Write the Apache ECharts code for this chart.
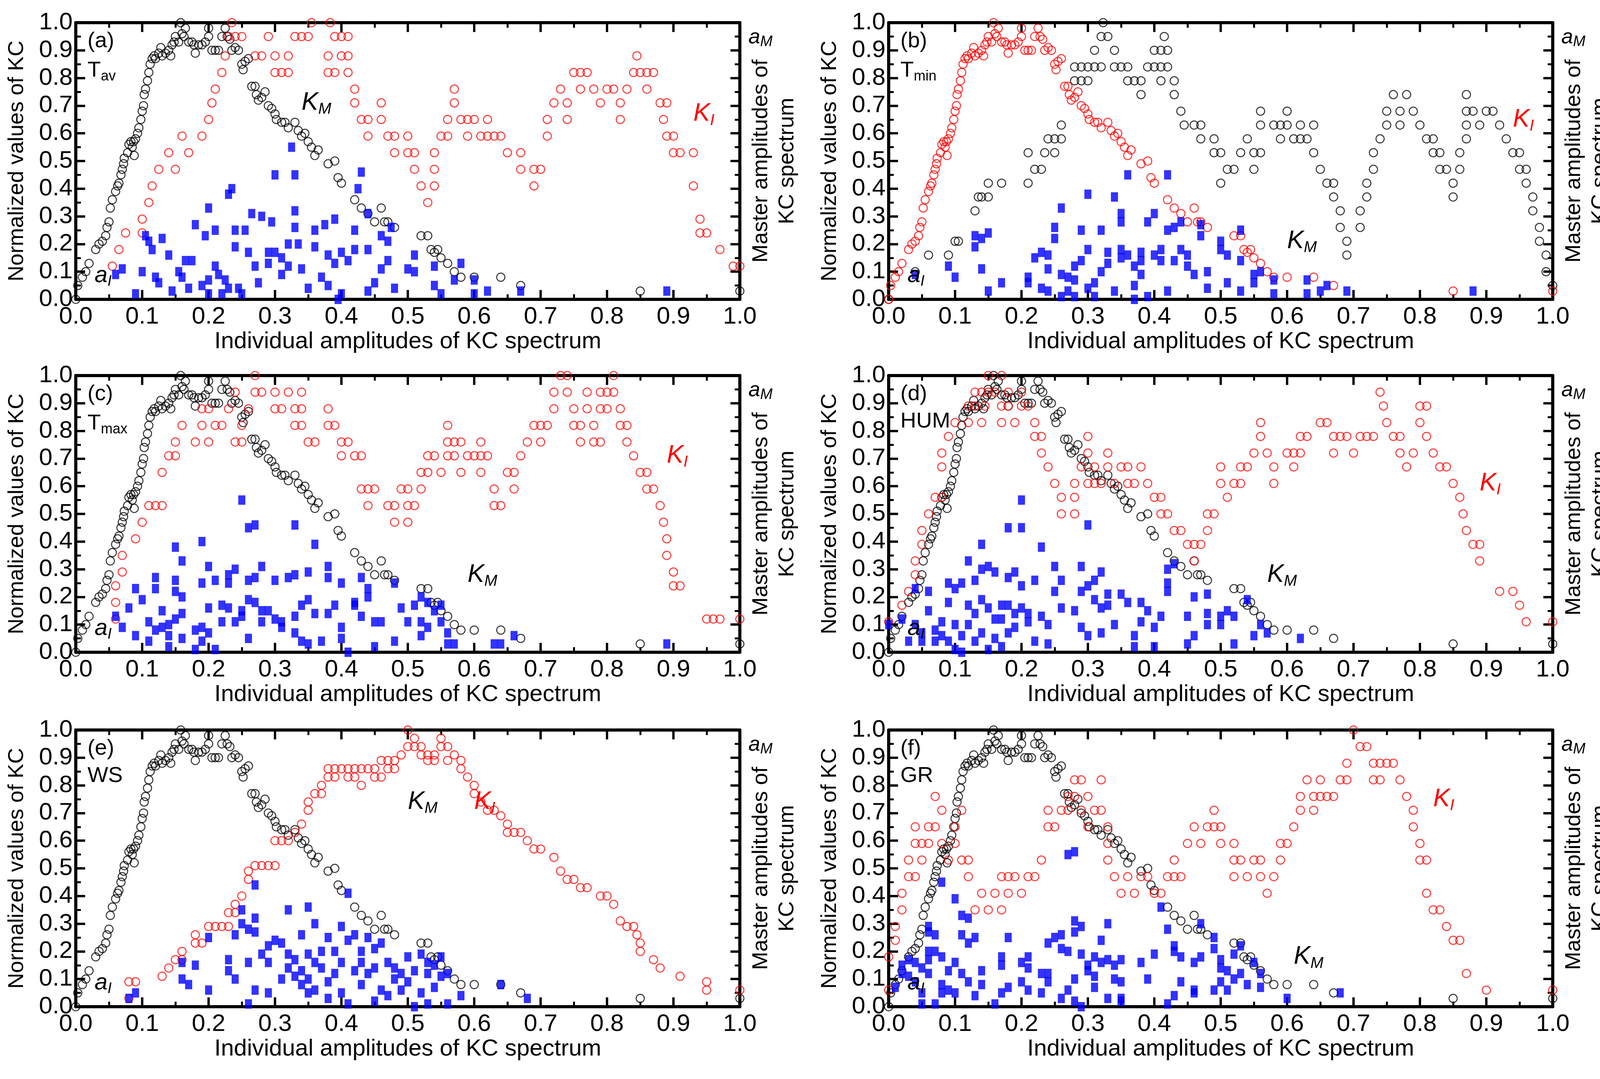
<!DOCTYPE html>
<html>
<head>
<meta charset="utf-8">
<script src="https://cdn.jsdelivr.net/npm/echarts@6/dist/echarts.min.js"></script>
<style>
  html, body { margin: 0; padding: 0; background: #fff; }
  #chart { width: 4162px; height: 2761px; }
</style>
</head>
<body>
<div id="chart"></div>
<script>
// master KC curve (same in every panel)
const kmMaster = [[0,0],[0.003,0.05],[0.01,0.08],[0.015,0.1],[0.02,0.13],[0.03,0.18],[0.035,0.2],[0.04,0.21],[0.045,0.23],[0.047,0.26],[0.05,0.28],[0.052,0.33],[0.055,0.36],[0.06,0.39],[0.063,0.41],[0.065,0.42],[0.068,0.45],[0.07,0.47],[0.072,0.49],[0.073,0.51],[0.078,0.53],[0.08,0.56],[0.083,0.57],[0.085,0.55],[0.087,0.57],[0.088,0.52],[0.09,0.58],[0.093,0.6],[0.095,0.62],[0.098,0.65],[0.1,0.68],[0.102,0.7],[0.103,0.74],[0.105,0.76],[0.108,0.79],[0.11,0.82],[0.112,0.85],[0.115,0.87],[0.118,0.88],[0.12,0.87],[0.125,0.89],[0.128,0.91],[0.13,0.88],[0.135,0.89],[0.14,0.9],[0.143,0.88],[0.145,0.92],[0.148,0.93],[0.15,0.95],[0.155,0.93],[0.158,1.0],[0.16,0.96],[0.163,0.95],[0.165,0.98],[0.17,0.93],[0.175,0.93],[0.178,0.92],[0.18,0.89],[0.185,0.92],[0.19,0.92],[0.195,0.93],[0.2,0.95],[0.2,0.98],[0.205,0.9],[0.21,0.9],[0.215,0.9],[0.22,0.95],[0.225,0.98],[0.228,0.95],[0.232,0.94],[0.235,0.9],[0.24,0.91],[0.245,0.9],[0.25,0.85],[0.252,0.83],[0.255,0.86],[0.26,0.87],[0.265,0.77],[0.27,0.77],[0.272,0.74],[0.275,0.72],[0.28,0.73],[0.285,0.75],[0.29,0.7],[0.295,0.69],[0.3,0.67],[0.302,0.65],[0.31,0.64],[0.315,0.64],[0.32,0.62],[0.33,0.64],[0.335,0.61],[0.34,0.59],[0.345,0.6],[0.35,0.57],[0.355,0.55],[0.36,0.52],[0.365,0.54],[0.38,0.49],[0.39,0.5],[0.395,0.44],[0.4,0.42],[0.42,0.36],[0.43,0.33],[0.44,0.31],[0.45,0.28],[0.46,0.33],[0.465,0.28],[0.47,0.28],[0.48,0.26],[0.52,0.23],[0.53,0.23],[0.535,0.18],[0.54,0.17],[0.545,0.18],[0.55,0.15],[0.56,0.13],[0.57,0.1],[0.58,0.08],[0.6,0.08],[0.64,0.08],[0.67,0.05],[0.85,0.03],[1.0,0.03]];

const kiA = [[0.055,0.12],[0.065,0.18],[0.075,0.24],[0.1,0.29],[0.1,0.24],[0.11,0.35],[0.115,0.41],[0.125,0.47],[0.14,0.53],[0.15,0.47],[0.16,0.59],[0.17,0.53],[0.19,0.59],[0.2,0.65],[0.205,0.71],[0.21,0.76],[0.22,0.82],[0.225,0.88],[0.23,0.95],[0.235,1.0],[0.24,0.95],[0.25,0.95],[0.27,0.88],[0.28,0.88],[0.29,0.95],[0.3,0.88],[0.3,0.82],[0.31,0.82],[0.32,0.82],[0.32,0.88],[0.33,0.95],[0.34,0.95],[0.35,0.95],[0.355,1.0],[0.38,0.88],[0.38,0.82],[0.39,0.95],[0.4,0.88],[0.39,0.82],[0.383,1.0],[0.4,0.95],[0.41,0.88],[0.41,0.82],[0.41,0.95],[0.42,0.76],[0.42,0.71],[0.43,0.65],[0.44,0.59],[0.44,0.65],[0.46,0.65],[0.46,0.71],[0.47,0.59],[0.48,0.59],[0.48,0.53],[0.5,0.53],[0.5,0.59],[0.51,0.53],[0.51,0.47],[0.52,0.41],[0.53,0.35],[0.54,0.41],[0.54,0.47],[0.54,0.53],[0.55,0.59],[0.56,0.59],[0.56,0.65],[0.57,0.71],[0.57,0.76],[0.58,0.65],[0.59,0.65],[0.59,0.59],[0.6,0.65],[0.61,0.59],[0.62,0.59],[0.62,0.65],[0.63,0.59],[0.64,0.59],[0.65,0.53],[0.67,0.53],[0.67,0.47],[0.69,0.41],[0.69,0.47],[0.7,0.47],[0.71,0.59],[0.71,0.65],[0.72,0.71],[0.73,0.76],[0.74,0.65],[0.74,0.71],[0.75,0.82],[0.76,0.76],[0.76,0.82],[0.77,0.82],[0.78,0.76],[0.79,0.71],[0.8,0.76],[0.81,0.76],[0.82,0.65],[0.82,0.71],[0.83,0.76],[0.84,0.82],[0.845,0.88],[0.85,0.82],[0.86,0.76],[0.86,0.82],[0.87,0.82],[0.88,0.71],[0.885,0.65],[0.89,0.71],[0.89,0.59],[0.9,0.59],[0.9,0.53],[0.91,0.53],[0.93,0.53],[0.93,0.41],[0.94,0.29],[0.94,0.24],[0.95,0.24],[0.97,0.18],[0.99,0.12],[1.0,0.12]];
const blueA = [[0.06,0.09],[0.07,0.11],[0.09,0.02],[0.1,0.1],[0.105,0.23],[0.11,0.21],[0.115,0.18],[0.12,0.08],[0.125,0.06],[0.13,0.22],[0.14,0.16],[0.145,0.03],[0.155,0.1],[0.16,0.08],[0.165,0.14],[0.17,0.04],[0.175,0.14],[0.18,0.27],[0.19,0.05],[0.195,0.23],[0.2,0.33],[0.2,0.02],[0.2,0.07],[0.21,0.25],[0.21,0.12],[0.215,0.09],[0.22,0.02],[0.225,0.07],[0.23,0.04],[0.23,0.38],[0.235,0.4],[0.24,0.19],[0.24,0.25],[0.245,0.04],[0.25,0.02],[0.255,0.25],[0.26,0.17],[0.265,0.31],[0.27,0.12],[0.275,0.06],[0.28,0.3],[0.29,0.13],[0.29,0.17],[0.295,0.28],[0.3,0.45],[0.3,0.17],[0.31,0.15],[0.31,0.09],[0.32,0.2],[0.32,0.12],[0.325,0.55],[0.33,0.26],[0.33,0.32],[0.33,0.45],[0.335,0.2],[0.34,0.11],[0.35,0.04],[0.36,0.25],[0.36,0.19],[0.37,0.08],[0.375,0.27],[0.38,0.05],[0.38,0.16],[0.39,0.29],[0.39,0.13],[0.395,0.0],[0.4,0.17],[0.4,0.02],[0.41,0.14],[0.42,0.25],[0.42,0.18],[0.425,0.4],[0.43,0.46],[0.44,0.31],[0.44,0.18],[0.45,0.06],[0.44,0.03],[0.46,0.23],[0.46,0.11],[0.47,0.14],[0.47,0.21],[0.475,0.26],[0.48,0.04],[0.5,0.11],[0.51,0.1],[0.51,0.16],[0.54,0.12],[0.54,0.05],[0.55,0.02],[0.57,0.07],[0.58,0.13],[0.6,0.02],[0.6,0.07],[0.62,0.03],[0.67,0.03],[0.89,0.03]];

const kiB = [[0.0,0.0],[0.04,0.1],[0.06,0.16],[0.09,0.16],[0.1,0.21],[0.105,0.21],[0.13,0.32],[0.135,0.37],[0.14,0.37],[0.15,0.37],[0.15,0.42],[0.17,0.42],[0.21,0.42],[0.21,0.53],[0.22,0.47],[0.23,0.47],[0.235,0.53],[0.24,0.58],[0.25,0.53],[0.25,0.58],[0.26,0.58],[0.26,0.63],[0.28,0.79],[0.28,0.84],[0.29,0.79],[0.29,0.84],[0.3,0.84],[0.3,0.79],[0.31,0.84],[0.31,0.9],[0.32,0.84],[0.32,0.95],[0.323,1.0],[0.33,0.95],[0.34,0.9],[0.34,0.84],[0.35,0.84],[0.36,0.84],[0.36,0.79],[0.37,0.79],[0.38,0.74],[0.38,0.79],[0.39,0.84],[0.4,0.9],[0.4,0.84],[0.41,0.79],[0.41,0.84],[0.41,0.9],[0.415,0.95],[0.42,0.9],[0.42,0.84],[0.43,0.79],[0.43,0.74],[0.44,0.68],[0.445,0.63],[0.46,0.63],[0.47,0.63],[0.47,0.58],[0.49,0.58],[0.49,0.53],[0.5,0.53],[0.5,0.42],[0.51,0.47],[0.52,0.47],[0.53,0.53],[0.54,0.58],[0.55,0.53],[0.55,0.47],[0.56,0.53],[0.56,0.63],[0.56,0.68],[0.58,0.63],[0.59,0.63],[0.59,0.58],[0.6,0.68],[0.6,0.63],[0.61,0.58],[0.62,0.63],[0.62,0.58],[0.63,0.58],[0.64,0.63],[0.64,0.53],[0.65,0.47],[0.66,0.42],[0.67,0.42],[0.67,0.37],[0.68,0.32],[0.68,0.26],[0.69,0.21],[0.69,0.16],[0.71,0.26],[0.71,0.32],[0.72,0.37],[0.72,0.42],[0.73,0.47],[0.73,0.53],[0.74,0.58],[0.75,0.63],[0.75,0.68],[0.76,0.74],[0.77,0.68],[0.77,0.63],[0.78,0.74],[0.79,0.68],[0.8,0.63],[0.81,0.58],[0.82,0.58],[0.82,0.53],[0.83,0.47],[0.83,0.53],[0.84,0.47],[0.85,0.42],[0.85,0.37],[0.86,0.47],[0.86,0.53],[0.87,0.58],[0.87,0.63],[0.87,0.68],[0.87,0.74],[0.88,0.68],[0.89,0.63],[0.9,0.68],[0.91,0.68],[0.92,0.63],[0.93,0.58],[0.94,0.53],[0.95,0.53],[0.95,0.47],[0.96,0.42],[0.97,0.37],[0.96,0.47],[0.97,0.32],[0.98,0.26],[0.98,0.21],[0.99,0.16],[0.99,0.1],[1.0,0.05]];
const blueB = [[0.04,0.09],[0.09,0.12],[0.1,0.08],[0.13,0.19],[0.13,0.23],[0.14,0.22],[0.15,0.24],[0.14,0.11],[0.15,0.03],[0.17,0.06],[0.21,0.08],[0.21,0.06],[0.22,0.15],[0.23,0.17],[0.23,0.04],[0.24,0.16],[0.24,0.11],[0.24,0.03],[0.25,0.26],[0.25,0.22],[0.26,0.33],[0.26,0.09],[0.26,0.01],[0.27,0.08],[0.27,0.03],[0.28,0.12],[0.28,0.07],[0.28,0.01],[0.29,0.25],[0.29,0.14],[0.3,0.18],[0.3,0.38],[0.3,0.04],[0.31,0.06],[0.31,0.01],[0.32,0.25],[0.32,0.1],[0.33,0.13],[0.33,0.17],[0.34,0.37],[0.34,0.03],[0.35,0.28],[0.35,0.31],[0.35,0.18],[0.35,0.15],[0.36,0.45],[0.36,0.16],[0.37,0.12],[0.37,0.05],[0.37,0.0],[0.38,0.09],[0.38,0.14],[0.38,0.17],[0.39,0.28],[0.39,0.01],[0.4,0.16],[0.4,0.31],[0.41,0.18],[0.41,0.14],[0.42,0.45],[0.42,0.25],[0.42,0.03],[0.43,0.26],[0.43,0.14],[0.44,0.18],[0.44,0.28],[0.45,0.12],[0.45,0.16],[0.46,0.09],[0.47,0.27],[0.47,0.23],[0.48,0.04],[0.48,0.1],[0.5,0.18],[0.5,0.21],[0.51,0.06],[0.51,0.16],[0.53,0.03],[0.53,0.25],[0.53,0.14],[0.55,0.06],[0.55,0.09],[0.56,0.1],[0.58,0.02],[0.58,0.07],[0.63,0.07],[0.63,0.02],[0.65,0.03],[0.66,0.05],[0.69,0.03],[0.88,0.03]];

const kiC = [[0.06,0.12],[0.06,0.18],[0.06,0.24],[0.07,0.29],[0.07,0.35],[0.09,0.41],[0.1,0.47],[0.11,0.53],[0.12,0.53],[0.13,0.53],[0.13,0.65],[0.14,0.71],[0.15,0.71],[0.15,0.76],[0.16,0.82],[0.18,0.76],[0.19,0.82],[0.19,0.88],[0.2,0.88],[0.2,0.76],[0.21,0.82],[0.22,0.82],[0.23,0.88],[0.24,0.94],[0.24,0.76],[0.25,0.82],[0.25,0.76],[0.26,0.88],[0.27,0.94],[0.27,1.0],[0.28,0.94],[0.3,0.94],[0.3,0.88],[0.31,0.88],[0.32,0.94],[0.33,0.88],[0.34,0.94],[0.34,0.88],[0.33,0.82],[0.34,0.82],[0.35,0.76],[0.36,0.76],[0.38,0.82],[0.38,0.88],[0.39,0.82],[0.4,0.76],[0.4,0.71],[0.41,0.76],[0.42,0.71],[0.43,0.71],[0.43,0.59],[0.44,0.53],[0.44,0.59],[0.45,0.59],[0.47,0.53],[0.48,0.47],[0.48,0.53],[0.49,0.59],[0.5,0.59],[0.5,0.47],[0.5,0.53],[0.51,0.53],[0.52,0.59],[0.52,0.65],[0.53,0.71],[0.53,0.65],[0.54,0.71],[0.55,0.65],[0.56,0.71],[0.56,0.76],[0.56,0.82],[0.57,0.76],[0.57,0.71],[0.58,0.76],[0.58,0.65],[0.59,0.71],[0.6,0.71],[0.61,0.76],[0.61,0.71],[0.61,0.65],[0.62,0.71],[0.63,0.59],[0.63,0.53],[0.64,0.53],[0.65,0.65],[0.66,0.65],[0.66,0.59],[0.67,0.71],[0.68,0.76],[0.69,0.82],[0.7,0.82],[0.7,0.76],[0.71,0.82],[0.72,0.88],[0.72,0.94],[0.73,1.0],[0.74,1.0],[0.74,0.94],[0.75,0.88],[0.75,0.82],[0.76,0.76],[0.76,0.82],[0.77,0.88],[0.77,0.94],[0.78,0.82],[0.78,0.76],[0.79,0.88],[0.79,0.94],[0.79,0.76],[0.8,0.88],[0.8,0.94],[0.81,1.0],[0.81,0.94],[0.82,0.88],[0.82,0.82],[0.83,0.82],[0.83,0.76],[0.84,0.71],[0.85,0.65],[0.86,0.59],[0.86,0.65],[0.87,0.59],[0.88,0.53],[0.885,0.47],[0.89,0.41],[0.89,0.35],[0.9,0.29],[0.9,0.24],[0.91,0.24],[0.95,0.12],[0.96,0.12],[0.97,0.12],[1.0,0.12]];
const blueC = [[0.06,0.13],[0.07,0.09],[0.08,0.16],[0.09,0.06],[0.09,0.23],[0.1,0.19],[0.11,0.11],[0.11,0.04],[0.12,0.08],[0.12,0.23],[0.12,0.27],[0.13,0.15],[0.13,0.09],[0.14,0.06],[0.14,0.1],[0.14,0.02],[0.15,0.26],[0.15,0.22],[0.15,0.12],[0.15,0.38],[0.16,0.33],[0.16,0.2],[0.16,0.14],[0.16,0.05],[0.18,0.08],[0.18,0.01],[0.19,0.09],[0.19,0.4],[0.19,0.25],[0.19,0.04],[0.2,0.31],[0.2,0.16],[0.2,0.07],[0.21,0.26],[0.21,0.01],[0.22,0.17],[0.22,0.11],[0.23,0.28],[0.23,0.25],[0.23,0.16],[0.24,0.11],[0.24,0.3],[0.25,0.55],[0.25,0.15],[0.25,0.13],[0.26,0.26],[0.26,0.45],[0.26,0.05],[0.26,0.19],[0.27,0.46],[0.27,0.27],[0.27,0.18],[0.28,0.31],[0.28,0.15],[0.28,0.11],[0.29,0.15],[0.3,0.26],[0.3,0.12],[0.31,0.09],[0.31,0.11],[0.32,0.27],[0.33,0.28],[0.33,0.46],[0.33,0.07],[0.33,0.13],[0.34,0.04],[0.34,0.17],[0.35,0.03],[0.35,0.29],[0.35,0.19],[0.36,0.14],[0.36,0.39],[0.37,0.04],[0.38,0.27],[0.38,0.31],[0.38,0.14],[0.39,0.17],[0.4,0.05],[0.4,0.09],[0.4,0.25],[0.41,0.0],[0.42,0.17],[0.42,0.18],[0.43,0.13],[0.43,0.27],[0.44,0.2],[0.44,0.23],[0.45,0.11],[0.45,0.02],[0.46,0.11],[0.48,0.04],[0.48,0.25],[0.49,0.16],[0.5,0.11],[0.51,0.17],[0.52,0.11],[0.52,0.2],[0.52,0.06],[0.53,0.18],[0.53,0.09],[0.54,0.15],[0.55,0.17],[0.55,0.11],[0.56,0.07],[0.56,0.03],[0.57,0.03],[0.63,0.03],[0.64,0.03],[0.66,0.06],[0.89,0.03]];

const kiD = [[0.0,0.11],[0.02,0.17],[0.03,0.22],[0.04,0.28],[0.04,0.33],[0.05,0.39],[0.05,0.44],[0.06,0.5],[0.07,0.56],[0.08,0.56],[0.08,0.67],[0.08,0.72],[0.09,0.78],[0.1,0.83],[0.12,0.83],[0.12,0.89],[0.13,0.94],[0.13,0.89],[0.14,0.83],[0.14,0.94],[0.145,0.89],[0.15,0.94],[0.15,1.0],[0.16,0.94],[0.17,0.89],[0.17,1.0],[0.17,0.83],[0.18,0.89],[0.18,0.94],[0.19,0.83],[0.2,0.89],[0.2,0.94],[0.21,0.89],[0.22,0.83],[0.22,0.78],[0.23,0.72],[0.23,0.78],[0.24,0.67],[0.25,0.61],[0.26,0.56],[0.26,0.5],[0.28,0.56],[0.28,0.5],[0.28,0.61],[0.29,0.67],[0.3,0.72],[0.3,0.78],[0.3,0.61],[0.31,0.61],[0.31,0.67],[0.32,0.61],[0.33,0.67],[0.33,0.72],[0.34,0.61],[0.35,0.67],[0.36,0.61],[0.36,0.67],[0.37,0.61],[0.38,0.67],[0.39,0.61],[0.4,0.56],[0.41,0.5],[0.41,0.56],[0.42,0.5],[0.43,0.44],[0.44,0.44],[0.45,0.39],[0.46,0.39],[0.46,0.33],[0.47,0.39],[0.48,0.44],[0.48,0.5],[0.49,0.5],[0.5,0.67],[0.5,0.61],[0.51,0.56],[0.52,0.61],[0.53,0.61],[0.53,0.67],[0.54,0.67],[0.55,0.72],[0.56,0.78],[0.56,0.83],[0.57,0.72],[0.58,0.67],[0.58,0.61],[0.6,0.72],[0.61,0.72],[0.61,0.67],[0.62,0.72],[0.62,0.78],[0.63,0.78],[0.65,0.83],[0.66,0.83],[0.67,0.78],[0.67,0.72],[0.68,0.78],[0.69,0.78],[0.7,0.72],[0.71,0.78],[0.72,0.78],[0.73,0.78],[0.74,0.94],[0.745,0.89],[0.75,0.83],[0.76,0.78],[0.77,0.78],[0.77,0.72],[0.78,0.67],[0.79,0.72],[0.8,0.83],[0.8,0.89],[0.81,0.89],[0.81,0.78],[0.82,0.72],[0.83,0.67],[0.84,0.67],[0.85,0.61],[0.86,0.56],[0.865,0.5],[0.87,0.44],[0.88,0.39],[0.89,0.39],[0.89,0.33],[0.92,0.22],[0.94,0.22],[0.95,0.17],[0.96,0.11],[1.0,0.11]];
const blueD = [[0.0,0.1],[0.02,0.12],[0.03,0.04],[0.04,0.23],[0.04,0.1],[0.05,0.07],[0.05,0.04],[0.06,0.15],[0.06,0.22],[0.07,0.08],[0.07,0.04],[0.08,0.11],[0.08,0.06],[0.09,0.25],[0.09,0.18],[0.09,0.04],[0.1,0.01],[0.1,0.1],[0.1,0.23],[0.11,0.25],[0.11,0.06],[0.11,0.0],[0.12,0.33],[0.12,0.17],[0.12,0.1],[0.13,0.04],[0.13,0.14],[0.13,0.26],[0.14,0.3],[0.14,0.19],[0.14,0.39],[0.14,0.07],[0.15,0.31],[0.15,0.16],[0.15,0.01],[0.16,0.12],[0.16,0.29],[0.16,0.05],[0.17,0.17],[0.17,0.12],[0.17,0.02],[0.18,0.27],[0.18,0.17],[0.18,0.45],[0.18,0.07],[0.19,0.14],[0.19,0.29],[0.19,0.09],[0.2,0.24],[0.2,0.16],[0.2,0.45],[0.2,0.55],[0.21,0.11],[0.21,0.14],[0.22,0.26],[0.22,0.04],[0.23,0.38],[0.23,0.13],[0.24,0.1],[0.24,0.03],[0.25,0.31],[0.25,0.22],[0.26,0.26],[0.26,0.16],[0.28,0.15],[0.29,0.31],[0.29,0.22],[0.29,0.09],[0.3,0.24],[0.3,0.46],[0.3,0.06],[0.31,0.26],[0.31,0.19],[0.32,0.16],[0.32,0.29],[0.32,0.07],[0.33,0.21],[0.33,0.17],[0.34,0.1],[0.35,0.21],[0.36,0.18],[0.37,0.06],[0.37,0.02],[0.38,0.18],[0.38,0.11],[0.39,0.15],[0.4,0.09],[0.4,0.02],[0.41,0.13],[0.42,0.3],[0.42,0.25],[0.42,0.22],[0.43,0.32],[0.45,0.13],[0.45,0.03],[0.46,0.2],[0.46,0.06],[0.48,0.1],[0.48,0.14],[0.48,0.21],[0.5,0.13],[0.5,0.1],[0.51,0.15],[0.52,0.03],[0.52,0.13],[0.54,0.19],[0.55,0.06],[0.56,0.1],[0.57,0.07],[0.62,0.05]];

const kiE = [[0.08,0.03],[0.08,0.09],[0.09,0.09],[0.13,0.11],[0.14,0.14],[0.15,0.17],[0.16,0.17],[0.16,0.2],[0.18,0.23],[0.18,0.26],[0.19,0.23],[0.2,0.29],[0.21,0.29],[0.22,0.29],[0.23,0.29],[0.23,0.34],[0.24,0.34],[0.24,0.37],[0.25,0.4],[0.26,0.46],[0.26,0.49],[0.27,0.51],[0.28,0.51],[0.29,0.51],[0.3,0.51],[0.3,0.6],[0.31,0.6],[0.32,0.6],[0.33,0.63],[0.34,0.66],[0.35,0.71],[0.35,0.74],[0.36,0.77],[0.37,0.77],[0.37,0.8],[0.38,0.83],[0.38,0.86],[0.39,0.86],[0.39,0.83],[0.4,0.86],[0.41,0.86],[0.41,0.83],[0.42,0.86],[0.42,0.83],[0.43,0.86],[0.43,0.8],[0.44,0.86],[0.45,0.86],[0.45,0.83],[0.46,0.83],[0.46,0.89],[0.47,0.86],[0.47,0.89],[0.48,0.86],[0.48,0.89],[0.49,0.91],[0.5,0.94],[0.5,1.0],[0.51,0.97],[0.51,0.94],[0.52,0.94],[0.52,0.91],[0.53,0.89],[0.53,0.91],[0.54,0.91],[0.54,0.89],[0.55,0.94],[0.55,0.97],[0.56,0.94],[0.56,0.89],[0.57,0.91],[0.58,0.89],[0.58,0.86],[0.59,0.83],[0.6,0.8],[0.6,0.77],[0.61,0.74],[0.62,0.71],[0.63,0.71],[0.64,0.69],[0.65,0.66],[0.65,0.63],[0.66,0.63],[0.67,0.63],[0.68,0.6],[0.69,0.57],[0.7,0.57],[0.72,0.54],[0.73,0.49],[0.74,0.46],[0.75,0.46],[0.76,0.43],[0.77,0.43],[0.79,0.4],[0.8,0.4],[0.81,0.37],[0.82,0.31],[0.83,0.29],[0.84,0.29],[0.845,0.26],[0.85,0.23],[0.85,0.2],[0.87,0.17],[0.88,0.14],[0.91,0.11],[0.95,0.09],[0.95,0.06],[1.0,0.06]];
const blueE = [[0.08,0.03],[0.09,0.05],[0.16,0.1],[0.16,0.16],[0.17,0.08],[0.18,0.15],[0.2,0.06],[0.2,0.25],[0.23,0.17],[0.23,0.13],[0.24,0.26],[0.24,0.1],[0.25,0.35],[0.25,0.3],[0.26,0.28],[0.26,0.16],[0.26,0.01],[0.27,0.32],[0.27,0.27],[0.27,0.44],[0.27,0.06],[0.28,0.19],[0.29,0.22],[0.29,0.16],[0.29,0.05],[0.3,0.24],[0.31,0.1],[0.31,0.23],[0.32,0.19],[0.32,0.35],[0.32,0.14],[0.33,0.17],[0.33,0.11],[0.34,0.13],[0.34,0.26],[0.34,0.08],[0.35,0.36],[0.35,0.19],[0.35,0.1],[0.35,0.05],[0.36,0.3],[0.36,0.16],[0.36,0.06],[0.37,0.14],[0.37,0.2],[0.38,0.25],[0.38,0.09],[0.38,0.03],[0.39,0.2],[0.39,0.12],[0.4,0.29],[0.4,0.16],[0.4,0.05],[0.41,0.01],[0.41,0.41],[0.41,0.24],[0.42,0.13],[0.42,0.26],[0.43,0.2],[0.43,0.16],[0.43,0.08],[0.44,0.12],[0.44,0.25],[0.45,0.21],[0.45,0.02],[0.45,0.14],[0.46,0.06],[0.46,0.23],[0.47,0.16],[0.47,0.04],[0.48,0.1],[0.48,0.14],[0.49,0.06],[0.49,0.12],[0.5,0.09],[0.5,0.18],[0.51,0.0],[0.51,0.13],[0.52,0.05],[0.52,0.19],[0.53,0.16],[0.53,0.12],[0.53,0.01],[0.54,0.07],[0.54,0.15],[0.55,0.11],[0.55,0.18],[0.56,0.12],[0.56,0.01],[0.58,0.04],[0.64,0.08],[0.68,0.03]];

const kiF = [[0.0,0.06],[0.0,0.18],[0.01,0.24],[0.01,0.29],[0.02,0.35],[0.02,0.41],[0.03,0.47],[0.03,0.53],[0.04,0.47],[0.04,0.59],[0.04,0.65],[0.05,0.59],[0.05,0.53],[0.06,0.59],[0.06,0.65],[0.07,0.65],[0.07,0.76],[0.08,0.71],[0.08,0.59],[0.09,0.53],[0.1,0.59],[0.1,0.65],[0.11,0.71],[0.11,0.53],[0.12,0.53],[0.12,0.47],[0.13,0.35],[0.14,0.41],[0.15,0.35],[0.16,0.41],[0.17,0.47],[0.17,0.35],[0.18,0.41],[0.18,0.47],[0.19,0.47],[0.2,0.41],[0.21,0.47],[0.22,0.47],[0.23,0.53],[0.24,0.71],[0.24,0.65],[0.25,0.65],[0.26,0.71],[0.27,0.71],[0.27,0.76],[0.28,0.82],[0.28,0.76],[0.29,0.82],[0.29,0.71],[0.3,0.76],[0.3,0.65],[0.31,0.71],[0.32,0.71],[0.32,0.82],[0.33,0.65],[0.33,0.59],[0.33,0.53],[0.34,0.47],[0.35,0.41],[0.36,0.47],[0.37,0.41],[0.38,0.47],[0.39,0.47],[0.4,0.41],[0.41,0.41],[0.42,0.47],[0.43,0.53],[0.43,0.47],[0.44,0.47],[0.45,0.59],[0.46,0.65],[0.47,0.59],[0.48,0.65],[0.49,0.71],[0.49,0.65],[0.5,0.65],[0.5,0.59],[0.52,0.59],[0.52,0.53],[0.52,0.47],[0.53,0.53],[0.54,0.47],[0.55,0.53],[0.56,0.47],[0.56,0.53],[0.57,0.41],[0.58,0.47],[0.59,0.53],[0.59,0.59],[0.6,0.59],[0.61,0.65],[0.62,0.71],[0.62,0.76],[0.63,0.82],[0.64,0.76],[0.64,0.71],[0.65,0.82],[0.65,0.76],[0.66,0.76],[0.67,0.76],[0.68,0.82],[0.69,0.88],[0.69,0.82],[0.7,1.0],[0.71,0.94],[0.72,0.94],[0.73,0.88],[0.73,0.82],[0.74,0.88],[0.74,0.82],[0.75,0.88],[0.76,0.88],[0.77,0.82],[0.78,0.76],[0.79,0.71],[0.79,0.65],[0.8,0.59],[0.8,0.53],[0.81,0.53],[0.81,0.41],[0.82,0.35],[0.83,0.35],[0.84,0.29],[0.85,0.24],[0.86,0.24],[0.87,0.12],[0.9,0.06],[1.0,0.06]];
const blueF = [[0.01,0.07],[0.02,0.12],[0.02,0.15],[0.03,0.17],[0.03,0.11],[0.04,0.16],[0.04,0.09],[0.05,0.14],[0.05,0.05],[0.05,0.01],[0.06,0.17],[0.06,0.2],[0.06,0.27],[0.06,0.29],[0.06,0.12],[0.07,0.01],[0.07,0.2],[0.07,0.26],[0.08,0.45],[0.08,0.18],[0.08,0.05],[0.08,0.08],[0.09,0.13],[0.09,0.06],[0.1,0.39],[0.1,0.16],[0.1,0.05],[0.11,0.33],[0.11,0.12],[0.11,0.26],[0.12,0.32],[0.12,0.23],[0.12,0.09],[0.13,0.25],[0.13,0.04],[0.14,0.13],[0.14,0.08],[0.16,0.01],[0.17,0.18],[0.17,0.15],[0.17,0.05],[0.18,0.25],[0.18,0.07],[0.2,0.16],[0.2,0.09],[0.21,0.18],[0.21,0.14],[0.21,0.06],[0.23,0.12],[0.23,0.05],[0.24,0.12],[0.24,0.23],[0.24,0.09],[0.25,0.25],[0.26,0.26],[0.26,0.21],[0.26,0.03],[0.27,0.55],[0.27,0.2],[0.27,0.06],[0.28,0.56],[0.28,0.27],[0.28,0.31],[0.28,0.1],[0.28,0.02],[0.29,0.19],[0.29,0.29],[0.29,0.0],[0.3,0.15],[0.3,0.13],[0.31,0.18],[0.31,0.11],[0.31,0.07],[0.32,0.24],[0.32,0.16],[0.33,0.03],[0.33,0.17],[0.33,0.3],[0.34,0.15],[0.34,0.1],[0.35,0.09],[0.35,0.17],[0.35,0.03],[0.35,0.02],[0.38,0.16],[0.39,0.1],[0.4,0.19],[0.41,0.36],[0.42,0.01],[0.42,0.28],[0.43,0.22],[0.43,0.04],[0.43,0.2],[0.44,0.18],[0.44,0.09],[0.46,0.16],[0.46,0.06],[0.46,0.05],[0.47,0.18],[0.47,0.3],[0.49,0.25],[0.49,0.21],[0.49,0.06],[0.5,0.17],[0.5,0.09],[0.5,0.14],[0.51,0.13],[0.51,0.06],[0.52,0.19],[0.52,0.1],[0.53,0.22],[0.53,0.12],[0.54,0.08],[0.55,0.16],[0.56,0.12],[0.56,0.07],[0.6,0.03],[0.68,0.05]];

const tickLabels = ['0.0','0.1','0.2','0.3','0.4','0.5','0.6','0.7','0.8','0.9','1.0'];

// panels: in (b) the master curve is the red one
const panels = [
  { tag: '(a)', v: 'T', sub: 'av', black: kmMaster, red: kiA, blue: blueA, km: [0.34, 0.71], ki: [0.93, 0.67] },
  { tag: '(b)', v: 'T', sub: 'min', black: kiB, red: kmMaster, blue: blueB, km: [0.6, 0.21], ki: [0.94, 0.65] },
  { tag: '(c)', v: 'T', sub: 'max', black: kmMaster, red: kiC, blue: blueC, km: [0.59, 0.28], ki: [0.89, 0.71] },
  { tag: '(d)', v: 'HUM', sub: '', black: kmMaster, red: kiD, blue: blueD, km: [0.57, 0.28], ki: [0.89, 0.61] },
  { tag: '(e)', v: 'WS', sub: '', black: kmMaster, red: kiE, blue: blueE, km: [0.5, 0.74], ki: [0.6, 0.74] },
  { tag: '(f)', v: 'GR', sub: '', black: kmMaster, red: kiF, blue: blueF, km: [0.61, 0.18], ki: [0.82, 0.75] }
];

const cols = [194, 2275];
const rows = [58, 961, 1868];
const W = 1700, H = 708;
const chart = echarts.init(document.getElementById('chart'), null, { renderer: 'canvas' });

const grid = [], xAxis = [], yAxis = [], series = [], graphic = [];
const FONT = 'Liberation Sans';
const NARROW = "'Liberation Sans Narrow', 'Liberation Sans'";

panels.forEach((p, i) => {
  const L = cols[i % 2], T = rows[Math.floor(i / 2)];
  grid.push({ left: L, top: T, width: W, height: H });
  const axisBase = {
    type: 'value', min: 0, max: 1, interval: 0.1,
    axisLine: { show: true, onZero: false, lineStyle: { color: '#000', width: 8 } },
    axisTick: { show: true, inside: true, length: 24, lineStyle: { color: '#000', width: 6 } },
    minorTick: { show: true, splitNumber: 2, length: 13, lineStyle: { color: '#000', width: 5 } },
    splitLine: { show: false }, gridIndex: i
  };
  const lbl = { color: '#000', fontFamily: NARROW, fontSize: 62, formatter: v => tickLabels[Math.round(v * 10)] };
  xAxis.push(Object.assign({}, axisBase, { position: 'bottom', axisLabel: Object.assign({ margin: 14 }, lbl) }));
  xAxis.push(Object.assign({}, axisBase, { position: 'top', axisLabel: { show: false } }));
  yAxis.push(Object.assign({}, axisBase, { position: 'left', axisLabel: Object.assign({ margin: 8 }, lbl) }));
  yAxis.push(Object.assign({}, axisBase, { position: 'right', axisLabel: { show: false } }));

  const circ = (data, color) => ({
    type: 'scatter', xAxisIndex: 2 * i, yAxisIndex: 2 * i, data, symbol: 'circle', symbolSize: 21,
    itemStyle: { color: 'rgba(0,0,0,0)', borderColor: color, borderWidth: 2.5 }, silent: true, z: 2
  });
  series.push(circ(p.black, '#000'));
  series.push(circ(p.red, '#ff0000'));
  series.push({
    type: 'scatter', xAxisIndex: 2 * i, yAxisIndex: 2 * i, data: p.blue, symbol: 'rect', symbolSize: [18, 24],
    itemStyle: { color: '#0000ff' }, silent: true, z: 3
  });

  const txt = (x, y, style, extra) => graphic.push(Object.assign({ type: 'text', x, y, z: 10, style }, extra || {}));
  // axis titles
  txt(L - 150, T + H / 2, { text: 'Normalized values of KC', font: `56px ${FONT}`, fill: '#000', align: 'center', verticalAlign: 'middle' }, { rotation: Math.PI / 2 });
  txt(L + W / 2, T + H + 108, { text: 'Individual amplitudes of KC spectrum', font: `60px ${NARROW}`, fill: '#000', align: 'center', verticalAlign: 'middle' });
  txt(L + W + 55, T + H / 2, { text: 'Master amplitudes of', font: `56px ${FONT}`, fill: '#000', align: 'center', verticalAlign: 'middle' }, { rotation: Math.PI / 2 });
  txt(L + W + 122, T + H / 2, { text: 'KC spectrum', font: `56px ${FONT}`, fill: '#000', align: 'center', verticalAlign: 'middle' }, { rotation: Math.PI / 2 });
  txt(L + W + 22, T + 8, { text: '{a|a}{s|M}', rich: { a: { font: `italic 54px ${NARROW}`, fill: '#000' }, s: { font: `italic 38px ${NARROW}`, fill: '#000', padding: [22, 0, 0, 0] } } });
  // tags
  txt(L + 30, T + 20, { text: p.tag, font: `56px ${NARROW}`, fill: '#000' });
  txt(L + 30, T + 90, { text: `{a|${p.v}}` + (p.sub ? `{s|${p.sub}}` : ''), rich: { a: { font: `56px ${NARROW}`, fill: '#000' }, s: { font: `36px ${NARROW}`, fill: '#000', padding: [30, 0, 0, 0] } } });
  txt(L + 48, T + H - 95, { text: '{a|a}{s|I}', rich: { a: { font: `italic 60px ${NARROW}`, fill: '#000' }, s: { font: `italic 38px ${NARROW}`, fill: '#000', padding: [30, 0, 0, 0] } } });
  // curve labels
  txt(L + p.km[0] * W, T + (1 - p.km[1]) * H, { text: '{a|K}{s|M}', verticalAlign: 'middle', rich: { a: { font: `italic 64px ${NARROW}`, fill: '#000' }, s: { font: `italic 40px ${NARROW}`, fill: '#000', padding: [34, 0, 0, 0] } } });
  txt(L + p.ki[0] * W, T + (1 - p.ki[1]) * H, { text: '{a|K}{s|I}', verticalAlign: 'middle', rich: { a: { font: `italic 64px ${NARROW}`, fill: '#ff0000' }, s: { font: `italic 40px ${NARROW}`, fill: '#ff0000', padding: [34, 0, 0, 0] } } });
});

chart.setOption({ backgroundColor: '#fff', animation: false, grid, xAxis, yAxis, series, graphic });
</script>
</body>
</html>
